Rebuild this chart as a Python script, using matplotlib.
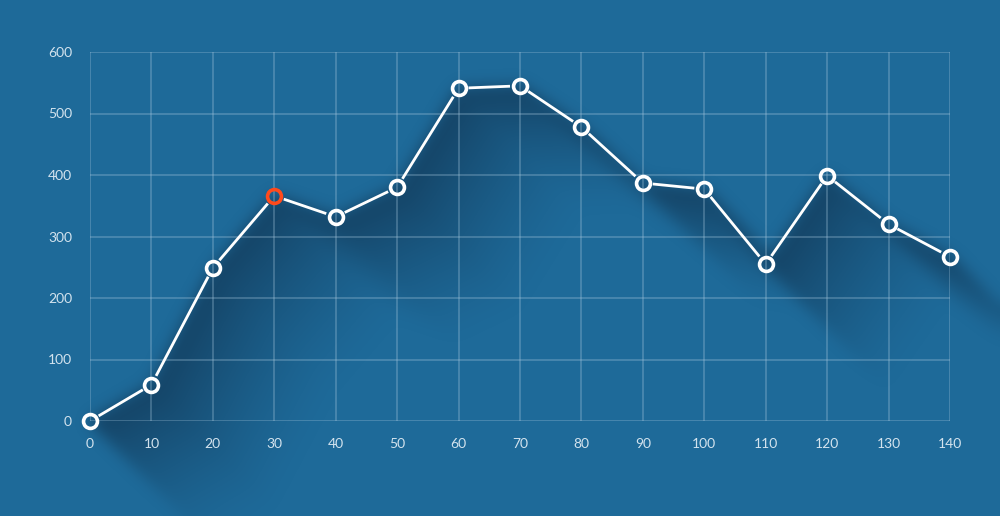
import numpy as np
import matplotlib
matplotlib.use("Agg")
import matplotlib.pyplot as plt
from matplotlib.collections import LineCollection

# Data
x_vals = [0, 10, 20, 30, 40, 50, 60, 70, 80, 90, 100, 110, 120, 130, 140]
y_vals = [0, 59, 249, 366, 332, 380, 541, 545, 478, 387, 377, 255, 399, 320, 267]
highlight_idx = 3
x_ticks = list(range(0, 141, 10))
y_ticks = list(range(0, 601, 100))

bg = "#1e6a99"
W, H, DPI = 1000, 516, 100

fig = plt.figure(figsize=(W / DPI, H / DPI), dpi=DPI, facecolor=bg)
ax = fig.add_axes([0.09, 1 - 421 / H, 0.86, 369 / H])
ax.set_facecolor("none")
ax.set_xlim(0, 140)
ax.set_ylim(0, 600)
ax.set_xticks(x_ticks)
ax.set_yticks(y_ticks)
for s in ax.spines.values():
    s.set_visible(False)
ax.grid(True, color="#a9c9de", alpha=0.35, lw=1.2)
ax.tick_params(length=0, colors="#d3e3ee", labelsize=10)
ax.tick_params(axis="y", pad=13)
ax.tick_params(axis="x", pad=12)
for lab in ax.get_xticklabels() + ax.get_yticklabels():
    lab.set_fontfamily("Lato")
ax.set_axisbelow(True)

# --- long shadow, raster built in pixel space from the data line ---
fig.canvas.draw()
pts = ax.transData.transform(np.column_stack([x_vals, y_vals]))
pts[:, 1] = H - pts[:, 1]  # image rows go down
mask = np.zeros((H, W))
for (x0, y0), (x1, y1) in zip(pts[:-1], pts[1:]):
    n = int(np.hypot(x1 - x0, y1 - y0) * 2) + 2
    xs = np.linspace(x0, x1, n)
    ys = np.linspace(y0, y1, n)
    for dx in (-1, 0, 1):
        for dy in (-1, 0, 1):
            xi = np.clip(np.round(xs + dx).astype(int), 0, W - 1)
            yi = np.clip(np.round(ys + dy).astype(int), 0, H - 1)
            mask[yi, xi] = 1
L = 125
shade = np.zeros((H, W))
for t in range(L):
    f = (1 - t / L) ** 1.4
    sh = np.zeros_like(mask)
    sh[t:, t:] = mask[:H - t, :W - t]
    shade = np.maximum(shade, f * sh)

# soften the edges
sig = 7
k = np.exp(-0.5 * (np.arange(-3 * sig, 3 * sig + 1) / sig) ** 2)
k /= k.sum()
pad = 3 * sig
tmp = np.pad(shade, pad, mode="edge")
tmp = np.apply_along_axis(lambda r: np.convolve(r, k, mode="same"), 1, tmp)
tmp = np.apply_along_axis(lambda c: np.convolve(c, k, mode="same"), 0, tmp)
shade = tmp[pad:-pad, pad:-pad]

rgba = np.zeros((H, W, 4))
rgba[..., 0] = 14 / 255
rgba[..., 1] = 42 / 255
rgba[..., 2] = 68 / 255
rgba[..., 3] = np.clip(shade, 0, 1) * 0.6
bg_ax = fig.add_axes([0, 0, 1, 1], zorder=-1)
bg_ax.imshow(rgba, extent=(0, W, H, 0), interpolation="bilinear")
bg_ax.set_xlim(0, W)
bg_ax.set_ylim(H, 0)
bg_ax.axis("off")

# --- line with gaps around the markers ---
disp = ax.transData.transform(np.column_stack([x_vals, y_vals]))
gap = 10
segs = []
for p0, p1 in zip(disp[:-1], disp[1:]):
    d = p1 - p0
    u = d / np.linalg.norm(d)
    a = ax.transData.inverted().transform(p0 + u * gap)
    b = ax.transData.inverted().transform(p1 - u * gap)
    segs.append([a, b])
ax.add_collection(LineCollection(segs, colors="white", linewidths=2.0,
                                 capstyle="butt", zorder=3))

colors = ["white"] * len(x_vals)
colors[highlight_idx] = "#ff4a1c"
for xv, yv, c in zip(x_vals, y_vals, colors):
    ax.plot(xv, yv, "o", ms=10, mfc="none", mec=c, mew=2.6,
            zorder=4, clip_on=False)

fig.savefig("out.png", dpi=DPI, facecolor=bg)
